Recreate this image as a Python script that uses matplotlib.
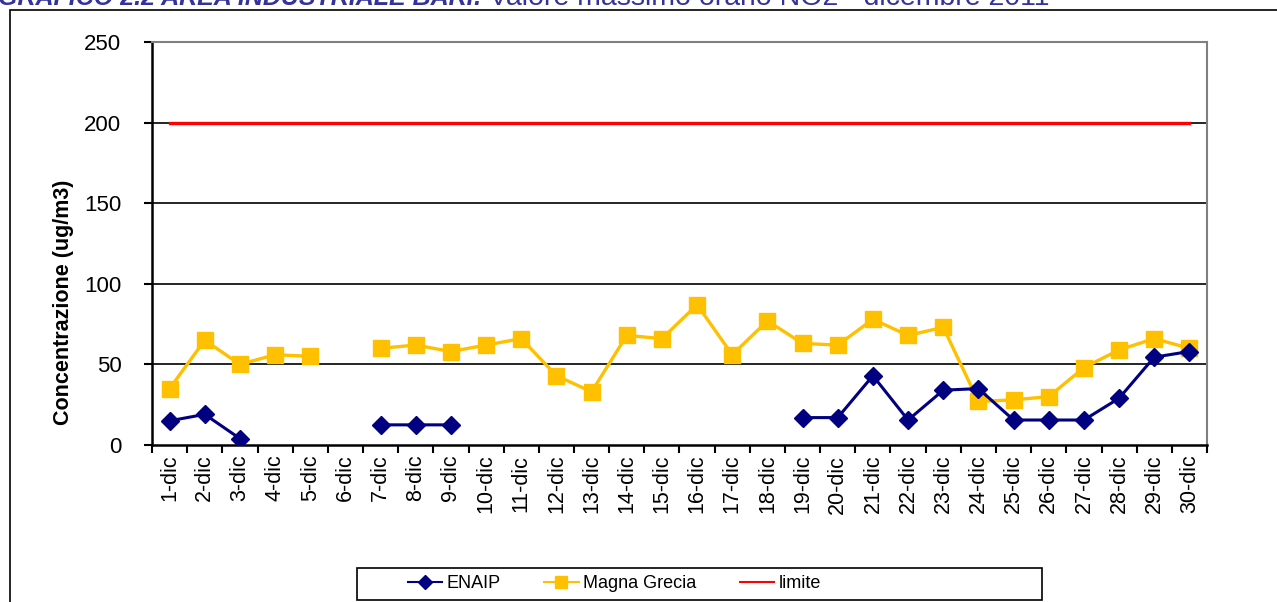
import matplotlib
matplotlib.use("Agg")
import matplotlib.pyplot as plt
import numpy as np
from matplotlib.lines import Line2D
from matplotlib.patches import Rectangle
from matplotlib.font_manager import FontProperties, fontManager

plt.rcParams['font.family'] = ['Liberation Sans', 'DejaVu Sans']

days = [f"{d}-dic" for d in range(1, 31)]
nan = np.nan
enaip = [15, 19, 4, nan, nan, nan, 12.5, 12.5, 12.5, nan,
         nan, nan, nan, nan, nan, nan, nan, nan, 17, 17,
         43, 15.5, 34, 35, 15.5, 15.5, 15.5, 29, 54.5, 58]
magna = [35, 65, 50, 56, 55, nan, 60, 62, 58, 62,
         66, 43, 33, 68, 66, 87, 56, 77, 63, 62,
         78, 68, 73, 27, 28, 30, 48, 59, 66, 60]
limite = [200] * 30
yticks = [0, 50, 100, 150, 200, 250]

navy = '#000080'
gold = '#FFC000'
red = '#FF0000'

W, H = 1277, 602
fig = plt.figure(figsize=(W/100, H/100), dpi=100)
ax = fig.add_axes([152/W, 1-445/H, (1207-152)/W, (445-42)/H])

x = np.arange(1, 31)
ax.plot(x, limite, color=red, lw=2.4, zorder=3)
ax.plot(x, magna, color=gold, lw=2.4, marker='s', ms=12, mec=gold, zorder=4)
ax.plot(x, enaip, color=navy, lw=2.2, marker='D', ms=9.5, mec=navy, zorder=5)

ax.set_xlim(0.5, 30.5)
ax.set_ylim(0, 250)
ax.set_yticks(yticks)
ax.set_yticklabels([str(v) for v in yticks], fontsize=16)
for v in yticks[1:-1]:
    ax.axhline(v, color='black', lw=1.2, zorder=1)

ax.set_xticks(x)
ax.set_xticklabels(days, rotation=90, fontsize=15.5)
ax.tick_params(axis='x', which='major', length=0, pad=7)
ax.set_xticks(np.arange(0.5, 31, 1), minor=True)
ax.tick_params(axis='x', which='minor', length=6, width=1.5, direction='out')
ax.tick_params(axis='y', length=6, width=1.5, direction='out', pad=16)

ax.spines['left'].set_linewidth(1.8)
ax.spines['bottom'].set_linewidth(1.8)
ax.spines['top'].set_color('#808080')
ax.spines['right'].set_color('#808080')
ax.spines['top'].set_linewidth(1.5)
ax.spines['right'].set_linewidth(1.5)

fig.text(63/W, 1-302/H, 'Concentrazione (ug/m3)', fontsize=15.5, fontweight='bold',
         rotation=90, ha='center', va='center')

# outer chart frame
fig.patches.append(Rectangle((10/W, -0.01), 1.1, 1-10/H + 0.01, transform=fig.transFigure,
                             fill=False, edgecolor='black', lw=1.2))

# legend box
fig.patches.append(Rectangle((357/W, 1-600/H), (1042-357)/W, 32/H, transform=fig.transFigure,
                             fill=False, edgecolor='black', lw=1.2))
names = {f.name for f in fontManager.ttflist}
leg_family = 'Liberation Sans Narrow' if 'Liberation Sans Narrow' in names else 'Liberation Sans'
leg_size = 15 if leg_family == 'Liberation Sans Narrow' else 13
handles = [Line2D([], [], color=navy, lw=1.5, marker='D', ms=7, mec=navy),
           Line2D([], [], color=gold, lw=1.5, marker='s', ms=8, mec=gold),
           Line2D([], [], color=red, lw=1.5)]
leg = fig.legend(handles, ['ENAIP', 'Magna Grecia', 'limite'], loc='center left',
                 bbox_to_anchor=(408/W, 1-584/H), ncol=3,
                 prop=FontProperties(family=leg_family, size=leg_size),
                 frameon=False, handlelength=1.9, handletextpad=0.25,
                 columnspacing=2.4, borderpad=0, borderaxespad=0)

# title (partly cut at top in the reference)
t1 = fig.text(-2/W, 1-5/H, 'GRAFICO 2.2 AREA INDUSTRIALE BARI: ', fontsize=18,
              fontweight='bold', fontstyle='italic', color='#333399', va='baseline')
fig.canvas.draw()
bb = t1.get_window_extent()
fig.text(bb.x1/W, 1-5/H, 'Valore massimo orario NO2 - dicembre 2011', fontsize=20.5,
         color='#333399', va='baseline')

fig.savefig('out.png', dpi=100)
